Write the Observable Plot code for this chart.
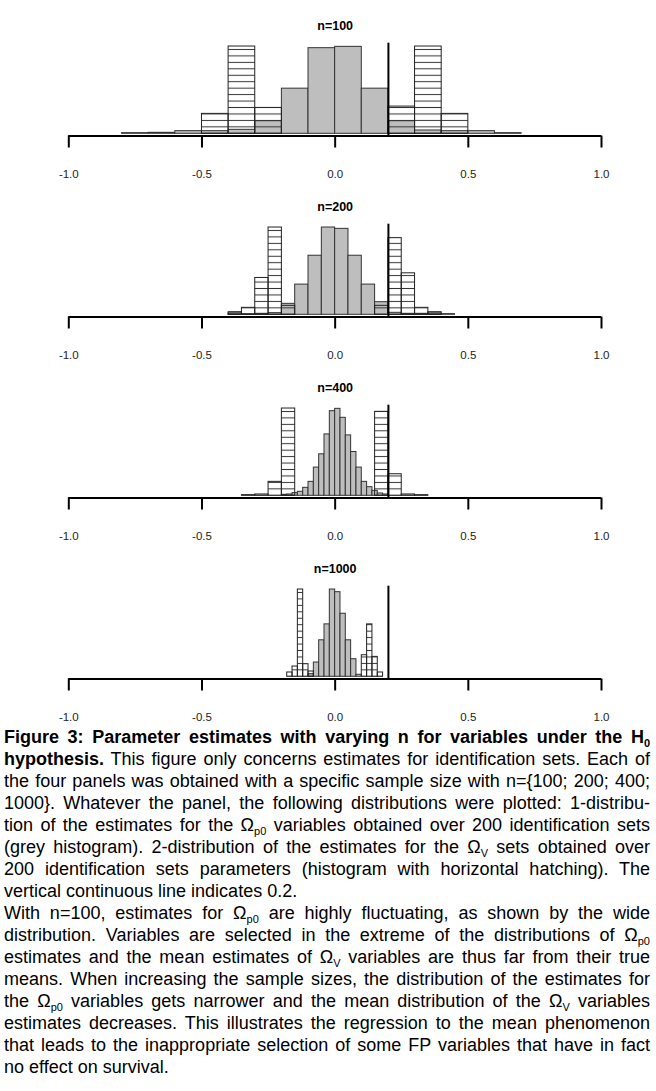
<!DOCTYPE html>
<html>
<head>
<meta charset="utf-8">
<script src="https://cdn.jsdelivr.net/npm/d3@7"></script>
<script src="https://cdn.jsdelivr.net/npm/@observablehq/plot@0.6"></script>
<style>
html, body { margin: 0; padding: 0; background: #fff; }
body { width: 656px; font-family: "Liberation Sans", Arial, sans-serif; color: #000; }
#charts svg { display: block; }
#caption { margin-top: 2px; padding-left: 4px; width: 646px; font-size: 18px; line-height: 22px; }
.ln { white-space: nowrap; height: 22px; }
.ln sub { font-size: 11px; line-height: 0; vertical-align: -4px; }
</style>
</head>
<body>
<div id="charts"></div>
<div id="caption">
<div class="ln j"><b>Figure 3: Parameter estimates with varying n for variables under the H<sub>0</sub></b></div>
<div class="ln j"><b>hypothesis.</b> This figure only concerns estimates for identification sets. Each of</div>
<div class="ln j">the four panels was obtained with a specific sample size with n={100; 200; 400;</div>
<div class="ln j">1000}. Whatever the panel, the following distributions were plotted: 1-distribu-</div>
<div class="ln j">tion of the estimates for the Ω<sub>p0</sub> variables obtained over 200 identification sets</div>
<div class="ln j">(grey histogram). 2-distribution of the estimates for the Ω<sub>V</sub> sets obtained over</div>
<div class="ln j">200 identification sets parameters (histogram with horizontal hatching). The</div>
<div class="ln">vertical continuous line indicates 0.2.</div>
<div class="ln j">With n=100, estimates for Ω<sub>p0</sub> are highly fluctuating, as shown by the wide</div>
<div class="ln j">distribution. Variables are selected in the extreme of the distributions of Ω<sub>p0</sub></div>
<div class="ln j">estimates and the mean estimates of Ω<sub>V</sub> variables are thus far from their true</div>
<div class="ln j">means. When increasing the sample sizes, the distribution of the estimates for</div>
<div class="ln j">the Ω<sub>p0</sub> variables gets narrower and the mean distribution of the Ω<sub>V</sub> variables</div>
<div class="ln j">estimates decreases. This illustrates the regression to the mean phenomenon</div>
<div class="ln j">that leads to the inappropriate selection of some FP variables that have in fact</div>
<div class="ln">no effect on survival.</div>
</div>
<script>
// ---- data ----
const panelTitles = ["n=100", "n=200", "n=400", "n=1000"];
const greyBinWidth = [0.1, 0.05, 0.02, 0.02];
const hatchBinWidth = [0.1, 0.05, 0.05, 0.02];
const tickValues = [-1, -0.5, 0, 0.5, 1];
const thresholdValue = 0.2;
const countMax = 273;

// [bin start, count]  — grey histogram (Ωp0 estimates)
const grey100 = [[-0.8,2],[-0.7,3],[-0.6,8],[-0.5,8],[-0.4,12],[-0.3,38],[-0.2,136],[-0.1,258],[0.0,262],[0.1,136],[0.2,38],[0.3,10],[0.4,8],[0.5,8],[0.6,2]];
const grey200 = [[-0.4,8],[-0.35,2],[-0.3,3],[-0.25,5],[-0.2,33],[-0.15,91],[-0.1,178],[-0.05,263],[0.0,259],[0.05,178],[0.1,91],[0.15,38],[0.2,6],[0.25,3],[0.3,3],[0.35,8],[0.4,2]];
const grey400 = [[-0.2,3],[-0.18,4],[-0.16,8],[-0.14,12],[-0.12,24],[-0.1,42],[-0.08,85],[-0.06,125],[-0.04,185],[-0.02,255],[0.0,262],[0.02,235],[0.04,182],[0.06,132],[0.08,85],[0.1,42],[0.12,26],[0.14,15],[0.16,7],[0.18,4]];
const grey1000 = [[-0.1,8],[-0.08,43],[-0.06,110],[-0.04,158],[-0.02,263],[0.0,255],[0.02,190],[0.04,110],[0.06,53],[0.08,6]];

// [bin start, count]  — hatched histogram (ΩV estimates)
const hatch100 = [[-0.5,60],[-0.4,263],[-0.3,78],[0.2,82],[0.3,263],[0.4,60]];
const hatch200 = [[-0.4,4],[-0.35,21],[-0.3,111],[-0.25,263],[-0.2,27],[0.15,27],[0.2,231],[0.25,125],[0.3,21],[0.35,4]];
const hatch400 = [[-0.35,2],[-0.3,4],[-0.25,42],[-0.2,263],[0.15,253],[0.2,65],[0.25,4],[0.3,2]];
const hatch1000 = [[-0.18,13],[-0.16,31],[-0.14,263],[-0.12,38],[-0.1,16],[0.1,65],[0.12,158],[0.14,60],[0.16,13]];

const greySets = [grey100, grey200, grey400, grey1000];
const hatchSets = [hatch100, hatch200, hatch400, hatch1000];

// ---- drawing ----
const charts = document.getElementById("charts");
panelTitles.forEach((title, i) => {
  const id = "hatch" + i;
  const wg = greyBinWidth[i], wh = hatchBinWidth[i];
  const svg = Plot.plot({
    width: 656, height: 181,
    marginLeft: 68.3, marginRight: 55, marginTop: 42.7, marginBottom: 45.5,
    insetBottom: 2.2,
    style: {fontFamily: '"Liberation Sans", Arial, sans-serif', fontSize: "11.5px", background: "white", color: "black", overflow: "visible"},
    x: {domain: [-1, 1]},
    y: {domain: [0, countMax], axis: null},
    marks: [
      Plot.rectY(greySets[i], {x1: d => d[0], x2: d => d[0] + wg, y1: 0, y2: d => d[1], fill: "#bebebe", stroke: "#333", strokeWidth: 1}),
      Plot.rectY(hatchSets[i], {x1: d => d[0], x2: d => d[0] + wh, y1: 0, y2: d => d[1], fill: `url(#${id})`, stroke: "#222", strokeWidth: 1}),
      Plot.ruleX([thresholdValue], {y1: countMax, y2: 0, stroke: "black", strokeWidth: 2, insetBottom: -2.2}),
      Plot.ruleY([0], {dy: 2.2, stroke: "black", strokeWidth: 2}),
      Plot.axisX({ticks: tickValues, tickSize: 12, tickPadding: 21.5, tickFormat: d => d.toFixed(1), fontSize: 11.5, strokeWidth: 2, stroke: "black", fill: "#222"}),
      Plot.text([title], {frameAnchor: "top", dy: -22, fontWeight: "bold", fontSize: 12.5, fill: "black"})
    ]
  });
  const base = svg.scale("y").apply(0);
  const h = 6.45;
  const pat = d3.select(svg).insert("defs", ":first-child")
    .append("pattern")
    .attr("id", id)
    .attr("patternUnits", "userSpaceOnUse")
    .attr("x", 0).attr("y", base - 1.5 * h)
    .attr("width", 20).attr("height", h);
  pat.append("line")
    .attr("x1", 0).attr("x2", 20)
    .attr("y1", h / 2).attr("y2", h / 2)
    .attr("stroke", "#333").attr("stroke-width", 1);
  charts.appendChild(svg);
});

// ---- justify caption lines ----
function justify() {
  const target = 646;
  document.querySelectorAll(".ln.j").forEach(el => {
    if (!el.firstElementChild || el.firstElementChild.className !== "jin") {
      el.innerHTML = `<span class="jin">${el.innerHTML}</span>`;
    }
    const span = el.firstElementChild;
    span.style.wordSpacing = "0px";
    const w = span.getBoundingClientRect().width;
    const n = (span.textContent.match(/ /g) || []).length;
    if (n > 0) span.style.wordSpacing = ((target - w) / n) + "px";
  });
}
justify();
if (document.fonts && document.fonts.ready) document.fonts.ready.then(justify);
</script>
</body>
</html>
